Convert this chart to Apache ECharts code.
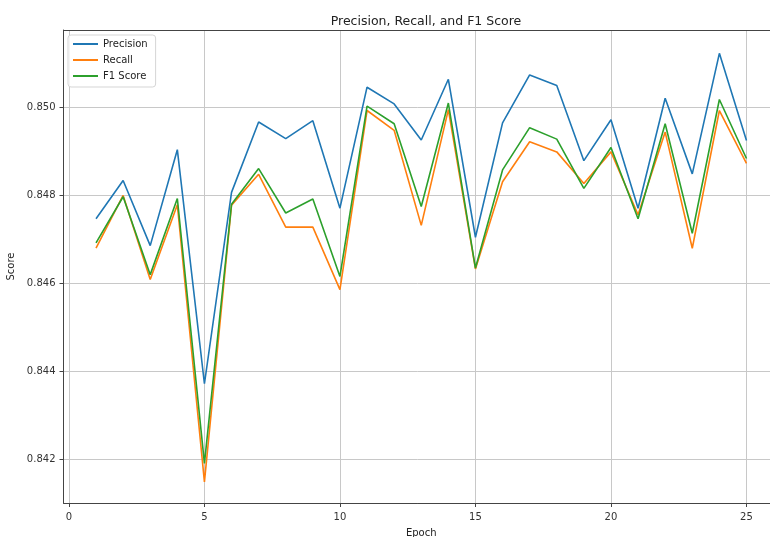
<!DOCTYPE html>
<html>
<head>
<meta charset="utf-8">
<script src="https://cdn.jsdelivr.net/npm/echarts@6/dist/echarts.min.js"></script>
<style>
html,body{margin:0;padding:0;background:#fff;}
#chart{width:770px;height:537px;}
</style>
</head>
<body>
<div id="chart"></div>
<script>
const epochs = [1,2,3,4,5,6,7,8,9,10,11,12,13,14,15,16,17,18,19,20,21,22,23,24,25];
const precision = [0.84747,0.84834,0.84686,0.84904,0.84372,0.84807,0.84967,0.84929,0.84970,0.84771,0.85046,0.85008,0.84926,0.85064,0.84705,0.84965,0.85074,0.85050,0.84879,0.84972,0.84771,0.85021,0.84849,0.85123,0.84925];
const recall = [0.84680,0.84800,0.84609,0.84779,0.84149,0.84778,0.84848,0.84728,0.84728,0.84586,0.84993,0.84948,0.84732,0.84995,0.84633,0.84831,0.84922,0.84899,0.84827,0.84899,0.84756,0.84944,0.84680,0.84993,0.84873];
const f1 = [0.84692,0.84797,0.84620,0.84793,0.84191,0.84780,0.84861,0.84760,0.84792,0.84616,0.85003,0.84963,0.84775,0.85010,0.84635,0.84858,0.84954,0.84928,0.84816,0.84909,0.84747,0.84963,0.84714,0.85018,0.84884];
const xTicks = [0,5,10,15,20,25];
const yTicks = [0.842,0.844,0.846,0.848,0.850];

const font = "'DejaVu Sans', sans-serif";
function pairs(vals){ return epochs.map((e,i)=>[e, vals[i]]); }

const chart = echarts.init(document.getElementById('chart'), null, {renderer:'canvas'});
chart.setOption({
  animation:false,
  backgroundColor:'#ffffff',
  title:{
    text:'Precision, Recall, and F1 Score',
    left:421, top:10, textAlign:'center',
    textStyle:{fontFamily:font, fontSize:12.5, fontWeight:'normal', color:'#222'}
  },
  legend:{
    orient:'vertical', left:68, top:35,
    itemWidth:25, itemHeight:2, itemGap:6,
    padding:[4,8,6,5],
    backgroundColor:'rgba(255,255,255,0.8)',
    borderColor:'#d5d5d5', borderWidth:1, borderRadius:3,
    textStyle:{fontFamily:font, fontSize:10, color:'#222', lineHeight:10},
    data:[{name:'Precision', icon:'rect'},{name:'Recall', icon:'rect'},{name:'F1 Score', icon:'rect'}]
  },
  grid:{left:63.5, top:30, width:715.5, height:473, show:false, outerBoundsMode:'none', containLabel:false},
  xAxis:[{
    type:'value', min:-0.2, max:26.2,
    name:'Epoch', nameLocation:'middle', nameGap:25,
    nameTextStyle:{fontFamily:font, fontSize:10, color:'#222'},
    axisLine:{show:true, onZero:false, lineStyle:{color:'#444', width:1}},
    axisTick:{show:true, inside:false, length:4, customValues:xTicks, lineStyle:{color:'#444'}},
    axisLabel:{customValues:xTicks, margin:9, fontFamily:font, fontSize:10, color:'#333'},
    splitLine:{show:true, lineStyle:{color:'#c8c8c8', width:1}}
  },{
    type:'value', min:-0.2, max:26.2, position:'top',
    axisLine:{show:true, onZero:false, lineStyle:{color:'#444', width:1}},
    axisTick:{show:false}, axisLabel:{show:false}, splitLine:{show:false}
  }],
  yAxis:{
    type:'value', min:0.84101, max:0.85176,
    name:'Score', nameLocation:'middle', nameGap:36, nameRotate:90,
    nameTextStyle:{fontFamily:font, fontSize:10, color:'#222'},
    axisLine:{show:true, onZero:false, lineStyle:{color:'#444', width:1}},
    axisTick:{show:true, inside:false, length:4, customValues:yTicks, lineStyle:{color:'#444'}},
    axisLabel:{customValues:yTicks, margin:8, fontFamily:font, fontSize:10, color:'#333', formatter:v=>v.toFixed(3)},
    splitLine:{show:true, lineStyle:{color:'#c8c8c8', width:1}}
  },
  series:[
    {name:'Precision', type:'line', data:pairs(precision), symbol:'none', color:'#1f77b4', lineStyle:{width:1.6, color:'#1f77b4'}},
    {name:'Recall', type:'line', data:pairs(recall), symbol:'none', color:'#ff7f0e', lineStyle:{width:1.6, color:'#ff7f0e'}},
    {name:'F1 Score', type:'line', data:pairs(f1), symbol:'none', color:'#2ca02c', lineStyle:{width:1.6, color:'#2ca02c'}}
  ]
});
</script>
</body>
</html>
